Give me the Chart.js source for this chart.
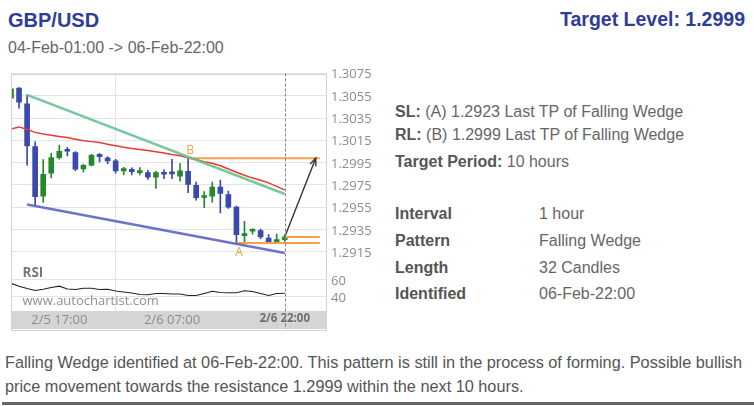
<!DOCTYPE html>
<html><head><meta charset="utf-8">
<script src="https://cdn.jsdelivr.net/npm/chart.js@4.4.0/dist/chart.umd.min.js"></script>
<style>
html,body{margin:0;padding:0;background:#fff;}
body{width:754px;height:406px;position:relative;overflow:hidden;font-family:Arial,"Liberation Sans",sans-serif;}
.t{position:absolute;white-space:nowrap;line-height:1;}
.lab{font-weight:bold;color:#555;}
.val{color:#666;}
#chart{position:absolute;left:0;top:60px;}
</style></head><body>
<div class="t" style="left:8px;top:10.4px;font-size:20px;font-weight:bold;color:#2f3c98;">GBP/USD</div>
<div class="t" style="left:8px;top:39.6px;font-size:16px;color:#666;">04-Feb-01:00 -&gt; 06-Feb-22:00</div>
<div class="t" style="right:9px;top:10.2px;font-size:19.5px;font-weight:bold;color:#2f3c98;">Target Level: 1.2999</div>

<div class="t val" style="left:395px;top:103.5px;font-size:16px;"><span class="lab">SL:</span> (A) 1.2923 Last TP of Falling Wedge</div>
<div class="t val" style="left:395px;top:127px;font-size:16px;"><span class="lab">RL:</span> (B) 1.2999 Last TP of Falling Wedge</div>
<div class="t val" style="left:395px;top:153.5px;font-size:16px;"><span class="lab">Target Period:</span> 10 hours</div>

<div class="t lab" style="left:395px;top:205.8px;font-size:16px;">Interval</div>
<div class="t val" style="left:539px;top:205.8px;font-size:16px;">1 hour</div>
<div class="t lab" style="left:395px;top:232.5px;font-size:16px;">Pattern</div>
<div class="t val" style="left:539px;top:232.5px;font-size:16px;">Falling Wedge</div>
<div class="t lab" style="left:395px;top:259.5px;font-size:16px;">Length</div>
<div class="t val" style="left:539px;top:259.5px;font-size:16px;">32 Candles</div>
<div class="t lab" style="left:395px;top:285.8px;font-size:16px;">Identified</div>
<div class="t val" style="left:539px;top:285.8px;font-size:16px;">06-Feb-22:00</div>

<div class="t" style="left:5px;top:354.3px;font-size:16.3px;color:#555;">Falling Wedge identified at 06-Feb-22:00. This pattern is still in the process of forming. Possible bullish</div>
<div class="t" style="left:5px;top:378.3px;font-size:16.3px;color:#555;">price movement towards the resistance 1.2999 within the next 10 hours.</div>
<div style="position:absolute;left:2px;top:402px;width:752px;height:3px;background:#666;"></div>

<canvas id="chart" width="380" height="275"></canvas>
<div class="t" style="left:22.5px;top:266.3px;font-size:13.5px;font-weight:bold;color:#777;font-family:'Open Sans';z-index:2;">RSI</div>
<div class="t" style="left:22.5px;top:293.5px;font-size:13px;color:#8f8f8f;font-family:'Open Sans';z-index:2;">www.autochartist.com</div>

<script>
// ---- data ----
const candleNo = [0,1,2,3,4,5,6,7,8,9,10,11,12,13,14,15,16,17,18,19,20,21,22,23,24,25,26,27,28,29,30,31,32,33,34];
const openV  = [1.30528,1.30619,1.30477,1.30095,1.2965,1.29855,1.29996,1.3006,1.30041,1.29895,1.29927,1.30026,1.29993,1.29966,1.29876,1.29891,1.29861,1.29861,1.29821,1.29861,1.29857,1.2983,1.29873,1.29747,1.29638,1.2965,1.29731,1.29665,1.29553,1.29296,1.29335,1.29341,1.29275,1.29242,1.2926];
const closeV = [1.30612,1.30492,1.30101,1.29645,1.29846,1.29995,1.30051,1.30053,1.29891,1.29927,1.30015,1.30005,1.29966,1.29876,1.29897,1.2987,1.29876,1.29821,1.29861,1.29846,1.2985,1.29876,1.29756,1.29636,1.29647,1.29731,1.29674,1.29551,1.29305,1.29314,1.29341,1.29284,1.29242,1.29248,1.29284];
const highV  = [1.3063,1.30624,1.30558,1.30137,1.29977,1.30035,1.30107,1.30087,1.30049,1.29936,1.30026,1.30032,1.30002,1.29981,1.29909,1.29904,1.29906,1.29882,1.29873,1.29885,1.29981,1.29942,1.2999,1.29776,1.2969,1.29776,1.29794,1.29695,1.2956,1.29425,1.29359,1.29354,1.29305,1.2931,1.29305];
const lowV   = [1.3052,1.30438,1.29927,1.29566,1.29593,1.29814,1.29981,1.30011,1.29879,1.29864,1.29921,1.29957,1.29942,1.29855,1.2984,1.2984,1.2984,1.29801,1.2972,1.29807,1.29807,1.29785,1.29681,1.29614,1.29546,1.29596,1.295,1.29539,1.2923,1.29237,1.29309,1.29269,1.29233,1.29233,1.29244];
const maV    = [1.30252,1.30271,1.30247,1.30222,1.30208,1.30196,1.30186,1.30175,1.3016,1.30146,1.30139,1.30132,1.30116,1.30102,1.30089,1.30078,1.30068,1.30059,1.30048,1.30036,1.30023,1.30013,1.29995,1.29978,1.29959,1.29945,1.29922,1.29894,1.29864,1.29837,1.29812,1.29792,1.29769,1.29738,1.29704];
const rsiV   = [55.4,52.1,49.4,47.1,48.5,50.6,52.1,48.9,48.3,49.7,49.7,48.3,48.5,46.6,45.4,44.3,42.5,42.2,43.7,43.7,43.1,43.1,41.4,41.4,43.7,46.2,44.8,44.6,44.6,46.8,46.0,43.7,41.4,43.7,43.9];

const priceTicks = [1.3075,1.3055,1.3035,1.3015,1.2995,1.2975,1.2955,1.2935,1.2915];
const rsiTicks = [60,40];
const xTickPos = [6,20,34];
const xTickLabels = ['2/5 17:00','2/6 07:00','2/6 22:00'];

// pattern
const wedgeIdx = [2,34];
const upperWedge = [1.30558,1.2967];
const lowerWedge = [1.29575,1.2914];
const pointB = {idx:22, price:1.2999};
const pointA = {idx:28, price:1.2923};
const lastIdx = 34;
const projEndIdx = 38.35;
const arrowEnd = {idx:37.85, price:1.2999};

// ---- styles ----
const GREEN = '#23892a', BLUE = '#3a49ac', ORANGE = '#f5a04c', GRID = '#e4e4e4';
const candleCol = openV.map((o,i) => closeV[i] >= o ? GREEN : BLUE);
const pts = (xs, ys) => xs.map((x,i) => ({x:x, y:ys[i]}));

const overlay = {
  id:'overlay',
  beforeDraw(chart){
    const {ctx, chartArea:a, scales:{x}} = chart;
    ctx.save();
    ctx.fillStyle = '#d5d5d5';
    ctx.fillRect(a.left, a.bottom, a.right - a.left, x.bottom - a.bottom);
    ctx.restore();
  },
  afterDatasetsDraw(chart){
    const {ctx, chartArea:a, scales:{x, y}} = chart;
    ctx.save();
    ctx.strokeStyle = '#d2d2d2'; ctx.lineWidth = 1;
    ctx.strokeRect(Math.round(a.left)+0.5, Math.round(a.top)+0.5, Math.round(a.right-a.left)-1, Math.round(x.bottom - a.top));
    const lx = Math.round(x.getPixelForValue(lastIdx)) + 0.5;
    ctx.strokeStyle = '#808080'; ctx.setLineDash([3,2]);
    ctx.beginPath(); ctx.moveTo(lx, a.top); ctx.lineTo(lx, x.bottom); ctx.stroke();
    ctx.setLineDash([]);
    const x0 = x.getPixelForValue(lastIdx), y0 = y.getPixelForValue(closeV[lastIdx]);
    const x1 = x.getPixelForValue(arrowEnd.idx), y1 = y.getPixelForValue(arrowEnd.price);
    const ang = Math.atan2(y1-y0, x1-x0);
    ctx.strokeStyle = '#333'; ctx.lineWidth = 1.4;
    ctx.beginPath();
    ctx.moveTo(x1 - 8*Math.cos(ang-0.4), y1 - 8*Math.sin(ang-0.4));
    ctx.lineTo(x1, y1);
    ctx.lineTo(x1 - 8*Math.cos(ang+0.4), y1 - 8*Math.sin(ang+0.4));
    ctx.stroke();
    ctx.fillStyle = ORANGE; ctx.font = '12px "Open Sans"'; ctx.textAlign = 'center'; ctx.textBaseline = 'middle';
    ctx.fillText('B', x.getPixelForValue(pointB.idx) + 2, y.getPixelForValue(pointB.price) - 8);
    ctx.fillText('A', x.getPixelForValue(pointA.idx) + 2.5, y.getPixelForValue(pointA.price) + 10);
    ctx.restore();
  }
};

new Chart(document.getElementById('chart'), {
  type:'bar',
  data:{ datasets:[
    {type:'line', data:pts([pointB.idx, projEndIdx],[pointB.price,pointB.price]), borderColor:ORANGE, borderWidth:2, pointRadius:0, yAxisID:'y', order:4},
    {type:'line', data:pts([pointA.idx, projEndIdx],[pointA.price,pointA.price]), borderColor:ORANGE, borderWidth:2, pointRadius:0, yAxisID:'y', order:4},
    {type:'line', data:pts([lastIdx, projEndIdx],[closeV[lastIdx],closeV[lastIdx]]), borderColor:ORANGE, borderWidth:2, pointRadius:0, yAxisID:'y', order:4},
    {type:'line', data:pts(candleNo, maV), borderColor:'#e63a35', borderWidth:1.5, pointRadius:0, yAxisID:'y', order:3},
    {type:'line', data:pts(wedgeIdx, upperWedge), borderColor:'rgba(104,194,146,0.9)', borderWidth:2.6, pointRadius:0, yAxisID:'y', order:2},
    {type:'line', data:pts(wedgeIdx, lowerWedge), borderColor:'rgba(92,100,196,0.9)', borderWidth:2.6, pointRadius:0, yAxisID:'y', order:2},
    {type:'line', data:pts([lastIdx, arrowEnd.idx],[closeV[lastIdx], arrowEnd.price]), borderColor:'#333', borderWidth:1.4, pointRadius:0, yAxisID:'y', order:1},
    {type:'line', data:pts(candleNo, rsiV), borderColor:'#222', borderWidth:1.1, pointRadius:0, yAxisID:'rsi', order:1},
    {type:'bar', data:candleNo.map(i => ({x:i, y:[lowV[i], highV[i]]})), backgroundColor:candleCol, barThickness:1, grouped:false, yAxisID:'y', order:10},
    {type:'bar', data:candleNo.map(i => ({x:i, y:[openV[i], closeV[i]]})), backgroundColor:candleCol, barThickness:5, minBarLength:2, grouped:false, yAxisID:'y', order:9}
  ]},
  options:{
    responsive:false, animation:false, devicePixelRatio:1,
    layout:{padding:{left:11, top:13.5, right:5, bottom:6}},
    plugins:{legend:{display:false}, tooltip:{enabled:false}},
    scales:{
      x:{type:'linear', min:0, max:39.25, offset:false,
        afterBuildTicks:s => { s.ticks = xTickPos.map(v => ({value:v})); },
        afterFit:s => { s.height = 18; },
        border:{display:false},
        grid:{color:c => (c.tick && c.tick.value === lastIdx) ? 'rgba(0,0,0,0)' : GRID, drawTicks:false},
        ticks:{padding:1, maxRotation:0, autoSkip:false,
          callback:(v,i) => xTickLabels[i],
          color:c => c.index === xTickLabels.length-1 ? '#6e6e6e' : '#8c8c8c',
          font:c => c.index === xTickLabels.length-1 ? {family:'Open Sans', size:11.5, weight:'bold'} : {family:'Open Sans', size:13}}
      },
      y:{type:'linear', position:'right', stack:'pane', stackWeight:188.5, min:1.290594, max:1.3075,
        afterBuildTicks:s => { s.ticks = priceTicks.map(v => ({value:v})); },
        afterFit:s => { s.width = 48; },
        border:{display:false},
        grid:{color:GRID, drawTicks:false},
        ticks:{padding:4, labelOffset:1.2, autoSkip:false, color:'#8c8c8c', font:{family:'Open Sans', size:13}, callback:v => v.toFixed(4)}
      },
      rsi:{type:'linear', position:'right', stack:'pane', stackWeight:49, min:23.56, max:79.89,
        afterBuildTicks:s => { s.ticks = rsiTicks.map(v => ({value:v})); },
        afterFit:s => { s.width = 48; },
        border:{display:false},
        grid:{color:GRID, drawTicks:false},
        ticks:{padding:4, labelOffset:1.5, autoSkip:false, color:'#8c8c8c', font:{family:'Open Sans', size:13}, callback:v => String(v)}
      }
    }
  },
  plugins:[overlay]
});
</script>
</body></html>
